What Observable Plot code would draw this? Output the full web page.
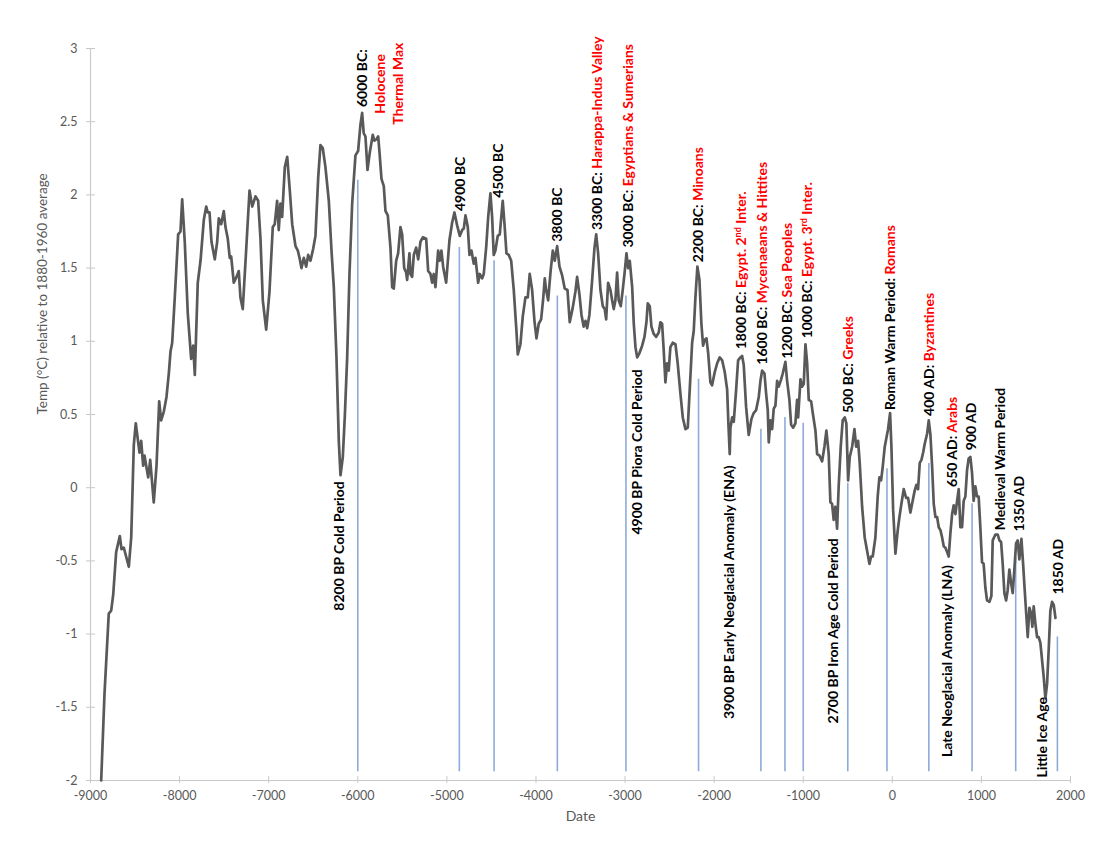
<!DOCTYPE html>
<html>
<head>
<meta charset="utf-8">
<script src="https://cdn.jsdelivr.net/npm/d3@7"></script>
<script src="https://cdn.jsdelivr.net/npm/@observablehq/plot@0.6"></script>
<style>
  body { margin: 0; background: #fff; }
  #chart svg { font-family: Lato, "Open Sans", sans-serif; background: #fff; }
</style>
</head>
<body>
<div id="chart"></div>
<script>
// ---- temperature series (year, °C relative to 1880-1960 average) ----
const years = [-8880,-8843,-8795,-8768,-8745,-8712,-8671,-8652,-8626,-8570,-8543,-8514,-8492,-8450,-8431,-8409,-8394,-8375,-8352,-8330,-8290,-8259,-8229,-8207,-8177,-8147,-8121,-8102,-8083,-8054,-8016,-7990,-7971,-7942,-7908,-7870,-7847,-7829,-7796,-7765,-7728,-7701,-7684,-7664,-7642,-7605,-7578,-7560,-7533,-7504,-7485,-7459,-7437,-7421,-7392,-7361,-7336,-7317,-7291,-7255,-7215,-7185,-7148,-7118,-7092,-7066,-7028,-6991,-6954,-6932,-6905,-6887,-6868,-6849,-6819,-6792,-6763,-6736,-6699,-6673,-6654,-6632,-6606,-6579,-6557,-6531,-6501,-6475,-6444,-6419,-6393,-6363,-6325,-6295,-6269,-6239,-6213,-6194,-6168,-6146,-6119,-6093,-6063,-6026,-5996,-5970,-5951,-5933,-5914,-5891,-5865,-5832,-5813,-5790,-5771,-5756,-5734,-5708,-5689,-5663,-5633,-5614,-5596,-5569,-5547,-5521,-5502,-5479,-5457,-5446,-5420,-5409,-5390,-5371,-5345,-5322,-5296,-5270,-5232,-5210,-5184,-5165,-5147,-5128,-5098,-5080,-5061,-5042,-5008,-4971,-4941,-4915,-4884,-4855,-4828,-4810,-4791,-4765,-4746,-4724,-4698,-4679,-4649,-4631,-4604,-4586,-4559,-4536,-4511,-4492,-4474,-4455,-4429,-4406,-4373,-4353,-4331,-4305,-4278,-4249,-4219,-4204,-4174,-4148,-4118,-4092,-4070,-4043,-4017,-3994,-3969,-3942,-3919,-3901,-3886,-3863,-3837,-3811,-3789,-3762,-3736,-3706,-3677,-3646,-3621,-3587,-3557,-3538,-3512,-3489,-3464,-3444,-3425,-3400,-3369,-3343,-3324,-3302,-3276,-3250,-3228,-3212,-3190,-3164,-3145,-3127,-3108,-3089,-3071,-3048,-3026,-3003,-2984,-2965,-2947,-2920,-2902,-2883,-2864,-2838,-2808,-2782,-2760,-2745,-2723,-2704,-2678,-2651,-2622,-2603,-2584,-2566,-2547,-2528,-2510,-2491,-2465,-2434,-2409,-2378,-2352,-2322,-2296,-2274,-2247,-2229,-2210,-2188,-2165,-2143,-2124,-2106,-2086,-2067,-2042,-2023,-1993,-1966,-1937,-1910,-1881,-1854,-1840,-1825,-1817,-1798,-1780,-1753,-1731,-1705,-1686,-1668,-1641,-1612,-1581,-1556,-1529,-1499,-1480,-1461,-1435,-1416,-1398,-1387,-1368,-1349,-1331,-1312,-1293,-1275,-1248,-1230,-1200,-1181,-1155,-1136,-1113,-1088,-1069,-1057,-1031,-1012,-994,-975,-956,-938,-911,-893,-863,-844,-818,-788,-762,-740,-714,-695,-676,-658,-639,-620,-602,-579,-557,-534,-516,-496,-478,-451,-425,-406,-384,-366,-339,-310,-283,-257,-238,-220,-190,-164,-145,-126,-108,-85,-48,-25,-10,9,35,61,80,102,128,155,177,203,222,251,270,289,308,327,346,364,391,409,428,447,465,484,503,521,540,559,577,596,615,633,652,671,689,708,727,745,764,783,801,820,839,857,876,895,913,932,951,969,988,1007,1025,1044,1063,1090,1112,1127,1157,1183,1202,1221,1239,1258,1277,1295,1314,1333,1351,1370,1389,1407,1426,1449,1468,1486,1505,1520,1539,1558,1572,1587,1606,1625,1643,1662,1681,1699,1718,1737,1755,1774,1793,1812,1831];
const temps = [-2.0,-1.41,-0.86,-0.84,-0.73,-0.44,-0.33,-0.42,-0.41,-0.54,-0.34,0.29,0.44,0.24,0.32,0.15,0.22,0.15,0.07,0.19,-0.10,0.15,0.59,0.46,0.52,0.62,0.78,0.93,0.99,1.30,1.73,1.75,1.97,1.68,1.19,0.88,0.97,0.77,1.40,1.55,1.83,1.92,1.88,1.88,1.68,1.56,1.68,1.84,1.80,1.89,1.78,1.70,1.57,1.58,1.40,1.44,1.48,1.30,1.22,1.60,2.03,1.92,1.99,1.96,1.70,1.28,1.08,1.34,1.78,1.80,1.96,1.76,1.94,1.85,2.19,2.26,2.03,1.80,1.65,1.62,1.57,1.50,1.57,1.51,1.59,1.55,1.63,1.72,2.12,2.34,2.32,2.19,1.96,1.62,1.37,0.89,0.32,0.085,0.21,0.48,0.89,1.46,1.94,2.27,2.30,2.48,2.56,2.42,2.40,2.17,2.29,2.41,2.37,2.38,2.40,2.29,2.11,2.06,1.89,1.86,1.64,1.37,1.36,1.55,1.60,1.78,1.73,1.50,1.47,1.42,1.60,1.46,1.44,1.59,1.64,1.56,1.68,1.71,1.70,1.48,1.46,1.40,1.46,1.37,1.62,1.55,1.62,1.51,1.40,1.69,1.81,1.88,1.79,1.72,1.76,1.77,1.86,1.78,1.59,1.62,1.53,1.57,1.40,1.46,1.43,1.46,1.64,1.85,2.01,1.85,1.59,1.62,1.72,1.73,1.96,1.80,1.60,1.59,1.55,1.35,1.07,0.91,0.98,1.17,1.30,1.30,1.46,1.35,1.14,1.02,1.12,1.15,1.29,1.43,1.35,1.28,1.47,1.62,1.55,1.65,1.51,1.45,1.36,1.35,1.13,1.23,1.34,1.44,1.32,1.18,1.10,1.14,1.09,1.18,1.42,1.64,1.73,1.60,1.35,1.24,1.22,1.15,1.40,1.35,1.28,1.22,1.28,1.47,1.28,1.24,1.35,1.48,1.60,1.50,1.55,1.37,1.12,0.96,0.89,0.92,0.97,1.03,1.13,1.26,1.24,1.10,1.05,1.03,1.06,1.13,1.12,0.94,0.72,0.85,0.80,0.96,0.99,0.98,0.85,0.64,0.48,0.40,0.41,0.67,0.99,1.07,1.30,1.51,1.42,1.12,0.97,1.01,1.02,0.92,0.72,0.70,0.79,0.85,0.89,0.87,0.79,0.67,0.44,0.23,0.41,0.48,0.45,0.67,0.87,0.89,0.90,0.84,0.55,0.36,0.47,0.51,0.53,0.62,0.73,0.80,0.78,0.64,0.53,0.31,0.46,0.40,0.54,0.56,0.73,0.69,0.74,0.78,0.86,0.73,0.60,0.43,0.41,0.44,0.60,0.48,0.74,0.69,0.71,0.98,0.85,0.60,0.59,0.51,0.39,0.23,0.22,0.18,0.28,0.39,0.23,-0.10,-0.11,-0.22,-0.13,-0.28,0.01,0.28,0.46,0.48,0.44,0.05,0.21,0.28,0.40,0.28,0.32,0.17,-0.13,-0.34,-0.43,-0.52,-0.47,-0.47,-0.34,-0.06,0.07,0.05,0.14,0.28,0.40,0.51,0.28,-0.15,-0.45,-0.29,-0.20,-0.11,-0.01,-0.07,-0.07,-0.17,-0.11,-0.02,0.02,-0.01,0.17,0.19,0.24,0.30,0.37,0.46,0.36,0.14,-0.11,-0.20,-0.20,-0.27,-0.29,-0.34,-0.40,-0.41,-0.44,-0.47,-0.31,-0.18,-0.12,-0.18,-0.09,-0.01,-0.27,-0.27,-0.09,-0.06,0.12,0.20,0.21,0.10,-0.09,0.01,-0.06,-0.06,-0.27,-0.51,-0.52,-0.68,-0.77,-0.78,-0.74,-0.36,-0.32,-0.32,-0.36,-0.37,-0.52,-0.72,-0.77,-0.70,-0.56,-0.65,-0.72,-0.56,-0.38,-0.36,-0.49,-0.35,-0.52,-0.70,-0.88,-1.02,-0.82,-0.86,-0.95,-0.81,-0.93,-1.02,-1.02,-1.06,-1.18,-1.29,-1.44,-1.34,-1.11,-0.84,-0.78,-0.80,-0.89];

// ---- event markers (vertical blue lines) ----
const eventYears = [-6000,-4860,-4470,-3760,-2990,-2175,-1475,-1205,-1000,-500,-60,410,895,1385,1853];
const eventTops  = [2.10,1.64,1.55,1.31,1.31,0.74,0.40,0.48,0.44,0.03,0.13,0.165,-0.11,-0.48,-1.02];
const eventBase  = -1.94;

// ---- annotations (anchor year / temp at the start of rotated text) ----
const annYear  = [-5951,-5745,-5543,-4847,-4424,-3762,-3313,-2958,-2173,-1697,-1461,-1174,-949,-496,-21,420,671,884,1213,1430,1867,1688,615,-658,-1825,-2864,-6202];
const annTemp  = [2.60,2.555,2.48,1.89,1.98,1.68,1.76,1.64,1.54,0.945,0.84,0.88,1.02,0.51,0.53,0.49,0.005,0.256,-0.29,-0.30,-0.73,-1.98,-1.84,-1.61,-1.58,-0.32,-0.84];
const annBlack = ["6000 BC:","","","4900 BC","4500 BC","3800 BC","3300 BC:","3000 BC:","2200 BC:","1800 BC:","1600 BC:","1200 BC:","1000 BC:","500 BC:","Roman Warm Period:","400 AD:","650 AD:","900 AD","Medieval Warm Period","1350 AD","1850 AD","Little Ice Age","Late Neoglacial Anomaly (LNA)","2700 BP Iron Age Cold Period","3900 BP Early Neoglacial Anomaly (ENA)","4900 BP Piora Cold Period","8200 BP Cold Period"];
const annRed   = ["","Holocene","Thermal Max","","","","Harappa-Indus Valley","Egyptians & Sumerians","Minoans","Egypt. 2^nd^ Inter.","Mycenaeans & Hittites","Sea Peoples","Egypt. 3^rd^ Inter.","Greeks","Romans","Byzantines","Arabs","","","","","","","","","",""];

// ---- axes ----
const xTicks = [-9000,-8000,-7000,-6000,-5000,-4000,-3000,-2000,-1000,0,1000,2000];
const yTicks = [-2,-1.5,-1,-0.5,0,0.5,1,1.5,2,2.5,3];
const xTitle = "Date";
const yTitle = "Temp (°C) relative to 1880-1960 average";

const series = years.map((y, i) => ({year: y, temp: temps[i]}));
const events = eventYears.map((y, i) => ({year: y, top: eventTops[i]}));
const annIdx = d3.range(annYear.length);
const plain = s => s.replace(/\^/g, "");
const annText = i => annBlack[i] && annRed[i] ? annBlack[i] + " " + plain(annRed[i]) : (annBlack[i] || plain(annRed[i]));

const chart = Plot.plot({
  width: 1114,
  height: 855,
  marginLeft: 90,
  marginRight: 44,
  marginTop: 48,
  marginBottom: 75,
  style: {fontFamily: "Lato, 'Open Sans', sans-serif", background: "#fff"},
  x: {domain: [-9000, 2000]},
  y: {domain: [-2, 3]},
  marks: [
    Plot.ruleY([-2], {stroke: "#c9c9c9", strokeWidth: 1.2}),
    Plot.ruleX([-9000], {stroke: "#c9c9c9", strokeWidth: 1.2}),
    Plot.axisX({ticks: xTicks, tickFormat: d => String(d), tickSize: 7, tickPadding: 8, dy: -4, label: null,
                stroke: "#c9c9c9", fill: "#595959", fontSize: 12.5}),
    Plot.axisY({ticks: yTicks, tickFormat: d => String(d), tickSize: 9, tickPadding: 9, dx: 5, label: null,
                stroke: "#c9c9c9", fill: "#595959", fontSize: 12.5}),
    Plot.text([xTitle], {frameAnchor: "bottom", dy: 40, fill: "#595959", fontSize: 14}),
    Plot.text([yTitle], {frameAnchor: "left", rotate: -90, dx: -48, fill: "#595959", fontSize: 13.5}),
    Plot.ruleX(events, {x: "year", y1: eventBase, y2: "top", stroke: "#8eaadb", strokeWidth: 1.6}),
    Plot.line(series, {x: "year", y: "temp", stroke: "#595959", strokeWidth: 2.7, strokeLinejoin: "round"}),
    Plot.text(annIdx, {x: i => annYear[i], y: i => annTemp[i], text: annText, rotate: -90, textAnchor: "start",
                       fontSize: 14, fontWeight: "bold", fill: "#000"})
  ]
});

// colour the second part of each annotation red, with superscripts
const byText = new Map(annIdx.map(i => [annText(i), i]));
d3.select(chart).selectAll("text").each(function() {
  const i = byText.get(this.textContent);
  if (i === undefined) return;
  const red = annRed[i];
  if (!red) return;
  const t = d3.select(this);
  t.text(null);
  if (annBlack[i]) t.append("tspan").attr("fill", "#000").text(annBlack[i] + " ");
  let shifted = false;
  red.split("^").forEach((seg, k) => {
    if (!seg) return;
    const ts = t.append("tspan").attr("fill", "#ff0000").text(seg);
    if (k % 2 === 1) { ts.attr("dy", -5).attr("font-size", 9); shifted = true; }
    else if (shifted) { ts.attr("dy", 5); shifted = false; }
  });
});

document.getElementById("chart").appendChild(chart);
</script>
</body>
</html>
